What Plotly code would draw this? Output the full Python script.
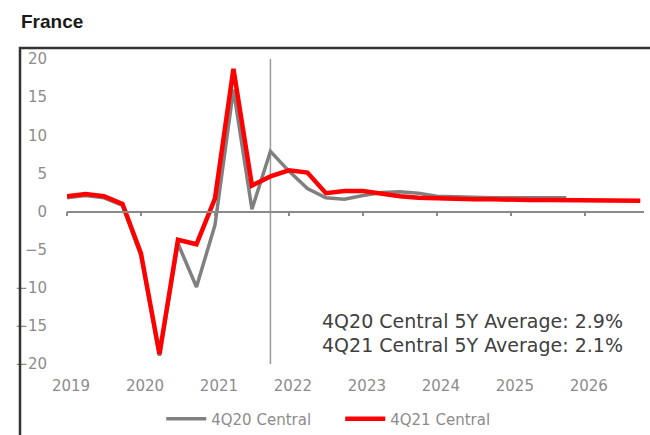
import plotly.graph_objects as go

# Quarterly positions (2019Q1 .. 2026Q4)
years = [2019, 2020, 2021, 2022, 2023, 2024, 2025, 2026]
quarters_red = [y + q / 4 for y in years for q in range(4)]
quarters_gray = quarters_red[:28]

red_4q21 = [2.0, 2.3, 2.0, 1.0, -5.5, -18.7, -3.7, -4.3,
            1.7, 18.7, 3.4, 4.6, 5.4, 5.1, 2.4, 2.7,
            2.7, 2.3, 2.0, 1.8, 1.7, 1.7, 1.6, 1.6,
            1.5, 1.5, 1.5, 1.5, 1.4, 1.4, 1.4, 1.4]
gray_4q20 = [1.8, 2.1, 1.8, 0.8, -5.8, -18.9, -4.2, -9.9,
             -1.8, 16.0, 0.3, 7.9, 5.3, 3.0, 1.8, 1.6,
             2.1, 2.5, 2.6, 2.4, 2.0, 1.9, 1.8, 1.8,
             1.8, 1.8, 1.8, 1.8]

ytick_vals = [-20, -15, -10, -5, 0, 5, 10, 15, 20]
year_labels = [str(y) for y in years]
forecast_start = 2021.75
avg_texts = ["4Q20 Central 5Y Average: 2.9%", "4Q21 Central 5Y Average: 2.1%"]

FONT = "DejaVu Sans"
GRAY_TXT = "#8c8c8c"

fig = go.Figure()
fig.add_trace(go.Scatter(x=quarters_gray, y=gray_4q20, mode="lines",
                         name="4Q20 Central",
                         line=dict(color="#808080", width=3.5)))
fig.add_trace(go.Scatter(x=quarters_red, y=red_4q21, mode="lines",
                         name="4Q21 Central",
                         line=dict(color="#ff0000", width=4.5)))

L, R, T, B = 67, 6, 59, 71
W, H = 650, 435
pw, ph = W - L - R, H - T - B

def px(x):
    return (x - L) / pw

def py(y):
    return (H - B - y) / ph

fig.update_layout(
    width=W, height=H,
    margin=dict(l=L, r=R, t=T, b=B, autoexpand=False),
    paper_bgcolor="white", plot_bgcolor="white",
    font=dict(family=FONT, color=GRAY_TXT, size=15),
    showlegend=True,
    legend=dict(orientation="h", x=px(167) - 0.01, xanchor="left",
                y=py(419), yanchor="middle",
                font=dict(family=FONT, size=15, color=GRAY_TXT),
                itemwidth=40, entrywidth=124, entrywidthmode="pixels",
                tracegroupgap=0, bgcolor="rgba(0,0,0,0)"),
    xaxis=dict(range=[2019, 2026.8], anchor="free", position=0.5,
               showline=True, linecolor="#8a8a8a", linewidth=1.5,
               tickvals=years, ticks="outside", ticklen=4,
               tickcolor="#8a8a8a", tickwidth=1.5,
               showticklabels=False, showgrid=False, zeroline=False),
    xaxis2=dict(range=[2019, 2026.8], overlaying="x", anchor="y",
                side="bottom", tickvals=years, ticktext=year_labels,
                showline=False, ticks="", showgrid=False, zeroline=False,
                tickfont=dict(family=FONT, size=15, color=GRAY_TXT),
                ticklabelshift=4, ticklabelstandoff=11),
    yaxis=dict(range=[-20, 20], tickvals=ytick_vals, showgrid=False,
               zeroline=False, showline=False, ticks="",
               tickfont=dict(family=FONT, size=15, color=GRAY_TXT),
               ticklabelstandoff=19),
)

# invisible trace so the label axis is drawn
fig.add_trace(go.Scatter(x=[years[0]], y=[0], xaxis="x2", mode="markers",
                         marker=dict(opacity=0), showlegend=False,
                         hoverinfo="skip"))

# forecast-start vertical line
fig.add_shape(type="line", xref="x", yref="paper", x0=forecast_start,
              x1=forecast_start, y0=0, y1=1,
              line=dict(color="#9a9a9a", width=1.5), layer="below")

# outer frame (top and left edges)
fig.add_shape(type="path", xref="paper", yref="paper",
              path=f"M {px(20)} {py(436)} L {px(20)} {py(48)} L {px(651)} {py(48)}",
              line=dict(color="#333333", width=2.5))

# title
fig.add_annotation(text="<b>France</b>", xref="paper", yref="paper",
                   x=px(19), y=py(22), xanchor="left", yanchor="middle",
                   showarrow=False,
                   font=dict(family="Liberation Sans", size=19, color="#1a1a1a"))

for i, t in enumerate(avg_texts):
    fig.add_annotation(text=t, xref="paper", yref="paper",
                       x=px(625), y=py(321 + 24 * i), xanchor="right",
                       yanchor="middle", showarrow=False,
                       font=dict(family=FONT, size=19, color="#404040"))

fig.write_html("out.html")
